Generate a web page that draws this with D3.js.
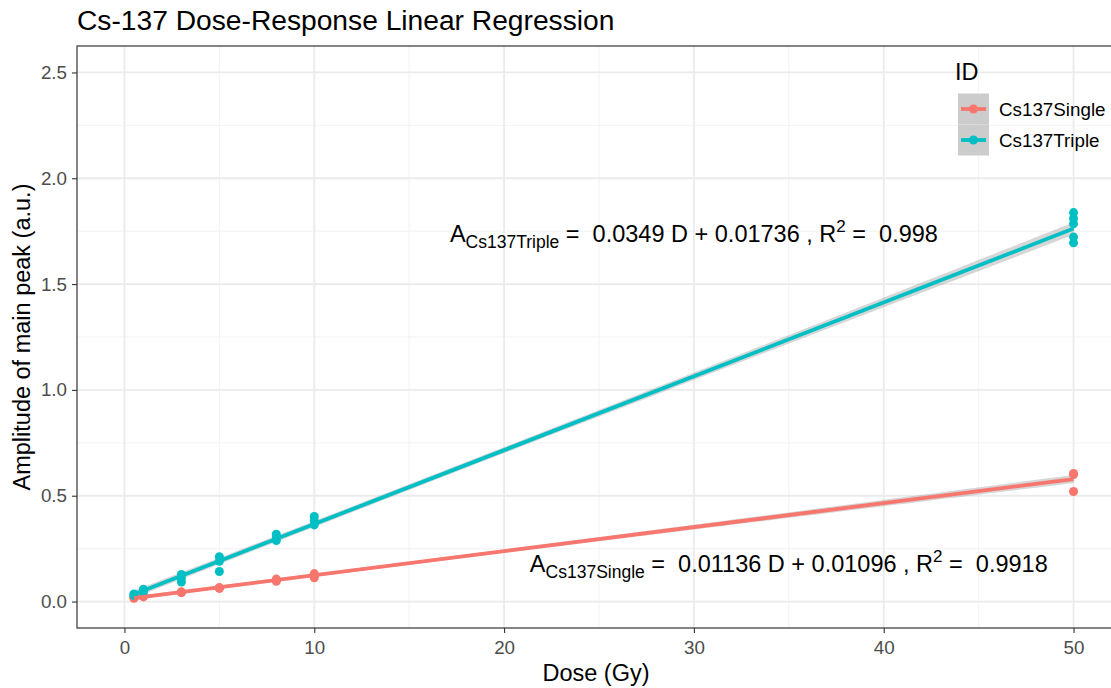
<!DOCTYPE html>
<html>
<head>
<meta charset="utf-8">
<script src="https://cdn.jsdelivr.net/npm/d3@7"></script>
<style>
  html, body { margin: 0; padding: 0; background: #fff; }
  svg { display: block; font-family: "Liberation Sans", Arial, Helvetica, sans-serif; }
  text { white-space: pre; }
</style>
</head>
<body>
<svg id="chart" width="1111" height="688"></svg>
<script>
// Dose (Gy) for each measurement
const singleDose = [0.5, 0.5, 0.5, 1, 1, 1, 3, 3, 3, 5, 5, 5, 8, 8, 8, 10, 10, 10, 50, 50, 50];
const singleAmp  = [0.015, 0.018, 0.022, 0.022, 0.025, 0.028, 0.042, 0.044, 0.046, 0.062, 0.064, 0.066, 0.096, 0.101, 0.106, 0.112, 0.122, 0.132, 0.605, 0.60, 0.52];

const tripleDose = [0.5, 0.5, 0.5, 1, 1, 1, 3, 3, 3, 5, 5, 5, 8, 8, 8, 10, 10, 10, 50, 50, 50, 50, 50];
const tripleAmp  = [0.028, 0.032, 0.036, 0.045, 0.052, 0.058, 0.092, 0.11, 0.128, 0.142, 0.19, 0.212, 0.288, 0.305, 0.318, 0.362, 0.382, 0.402, 1.838, 1.81, 1.785, 1.722, 1.695];

// Fitted coefficients (slope, intercept, R²) as printed in the annotations
const seriesNames = ["Cs137Single", "Cs137Triple"];
const slopes      = [0.01136, 0.0349];
const intercepts  = [0.01096, 0.01736];
const rSquared    = ["0.9918", "0.998"];
const slopeText   = ["0.01136", "0.0349"];
const interText   = ["0.01096", "0.01736"];
const labelPos    = [[35, 0.19], [30, 1.75]];

const xTicks = [0, 10, 20, 30, 40, 50];
const yTicks = [0.0, 0.5, 1.0, 1.5, 2.0, 2.5];
const xMinor = [5, 15, 25, 35, 45];
const yMinor = [0.25, 0.75, 1.25, 1.75, 2.25];

const colors = ["#F8766D", "#00BFC4"];

const svg = d3.select("#chart");
const panel = { left: 77, top: 46, right: 1121, bottom: 628 };

const x = d3.scaleLinear().domain([-2.5, 52.5]).range([panel.left, panel.right]);
const y = d3.scaleLinear().domain([-0.125, 2.625]).range([panel.bottom, panel.top]);

const clipId = "panel-clip";
svg.append("defs").append("clipPath").attr("id", clipId)
  .append("rect").attr("x", panel.left).attr("y", panel.top)
  .attr("width", panel.right - panel.left).attr("height", panel.bottom - panel.top);

const plot = svg.append("g").attr("clip-path", `url(#${clipId})`);

// grid: minor then major
const grid = plot.append("g");
grid.selectAll(".vminor").data(xMinor).join("line")
  .attr("x1", d => x(d)).attr("x2", d => x(d)).attr("y1", panel.top).attr("y2", panel.bottom)
  .attr("stroke", "#F0F0F0").attr("stroke-width", 0.9);
grid.selectAll(".hminor").data(yMinor).join("line")
  .attr("y1", d => y(d)).attr("y2", d => y(d)).attr("x1", panel.left).attr("x2", panel.right)
  .attr("stroke", "#F0F0F0").attr("stroke-width", 0.9);
grid.selectAll(".vmajor").data(xTicks).join("line")
  .attr("x1", d => x(d)).attr("x2", d => x(d)).attr("y1", panel.top).attr("y2", panel.bottom)
  .attr("stroke", "#EBEBEB").attr("stroke-width", 1.8);
grid.selectAll(".hmajor").data(yTicks).join("line")
  .attr("y1", d => y(d)).attr("y2", d => y(d)).attr("x1", panel.left).attr("x2", panel.right)
  .attr("stroke", "#EBEBEB").attr("stroke-width", 1.8);

// series data
const series = [
  { name: seriesNames[0], dose: singleDose, amp: singleAmp, b: slopes[0], a: intercepts[0], color: colors[0] },
  { name: seriesNames[1], dose: tripleDose, amp: tripleAmp, b: slopes[1], a: intercepts[1], color: colors[1] }
];

// 95% confidence band of the fitted line, from the residuals of each series
function band(s) {
  const n = s.dose.length;
  const mx = d3.mean(s.dose);
  const sxx = d3.sum(s.dose, d => (d - mx) * (d - mx));
  const rss = d3.sum(s.dose, (d, i) => Math.pow(s.amp[i] - (s.a + s.b * d), 2));
  const sigma = Math.sqrt(rss / (n - 2));
  const t = 2.09;
  const [lo, hi] = d3.extent(s.dose);
  const pts = d3.range(0, 81).map(k => lo + (hi - lo) * k / 80);
  return pts.map(d => {
    const fit = s.a + s.b * d;
    const se = sigma * Math.sqrt(1 / n + (d - mx) * (d - mx) / sxx);
    return { d, lo: fit - t * se, hi: fit + t * se };
  });
}

series.forEach(s => {
  const area = d3.area().x(p => x(p.d)).y0(p => y(p.lo)).y1(p => y(p.hi));
  plot.append("path").datum(band(s)).attr("d", area)
    .attr("fill", "#999999").attr("fill-opacity", 0.4);
});

// points
series.forEach(s => {
  plot.append("g").selectAll("circle").data(s.dose.map((d, i) => [d, s.amp[i]])).join("circle")
    .attr("cx", p => x(p[0])).attr("cy", p => y(p[1])).attr("r", 4.5)
    .attr("fill", s.color);
});

// fitted lines
series.forEach(s => {
  const [lo, hi] = d3.extent(s.dose);
  plot.append("line")
    .attr("x1", x(lo)).attr("y1", y(s.a + s.b * lo))
    .attr("x2", x(hi)).attr("y2", y(s.a + s.b * hi))
    .attr("stroke", s.color).attr("stroke-width", 3.8).attr("stroke-linecap", "butt");
});

// equation annotations
series.forEach((s, i) => {
  const t = plot.append("text")
    .attr("x", x(labelPos[i][0])).attr("y", y(labelPos[i][1]) + 10.5)
    .attr("text-anchor", "middle").attr("font-size", 23.5).attr("fill", "#000");
  t.append("tspan").text("A");
  t.append("tspan").attr("font-size", 17.5).attr("dy", 6).text(s.name);
  t.append("tspan").attr("dy", -6).text(" =  " + slopeText[i] + " D + " + interText[i] + " , R");
  t.append("tspan").attr("font-size", 17).attr("dy", -10).text("2");
  t.append("tspan").attr("dy", 10).text(" =  " + rSquared[i]);
});

// panel border
svg.append("rect").attr("x", panel.left).attr("y", panel.top)
  .attr("width", panel.right - panel.left).attr("height", panel.bottom - panel.top)
  .attr("fill", "none").attr("stroke", "#333333").attr("stroke-width", 1.2);

// axes
const xAxis = svg.append("g").attr("transform", `translate(0,${panel.bottom})`)
  .call(d3.axisBottom(x).tickValues(xTicks).tickFormat(d3.format("d")).tickSize(5).tickPadding(5));
const yAxis = svg.append("g").attr("transform", `translate(${panel.left},0)`)
  .call(d3.axisLeft(y).tickValues(yTicks).tickFormat(d3.format(".1f")).tickSize(5).tickPadding(5));
[xAxis, yAxis].forEach(g => {
  g.select(".domain").remove();
  g.selectAll(".tick line").attr("stroke", "#333333").attr("stroke-width", 1.1);
  g.selectAll(".tick text").attr("fill", "#4D4D4D").attr("font-size", 18.8)
    .attr("font-family", "'Liberation Sans', Arial, sans-serif");
});
xAxis.selectAll(".tick text").attr("dy", "0.85em");

// axis titles
svg.append("text").attr("x", (panel.left + 1111 + 4) / 2).attr("y", 681)
  .attr("text-anchor", "middle").attr("font-size", 23.5).attr("fill", "#000").text("Dose (Gy)");
svg.append("text").attr("transform", `translate(29.5,${(panel.top + panel.bottom) / 2}) rotate(-90)`)
  .attr("text-anchor", "middle").attr("font-size", 23.5).attr("fill", "#000").text("Amplitude of main peak (a.u.)");

// title
svg.append("text").attr("x", 77).attr("y", 30).attr("font-size", 28.2).attr("fill", "#000")
  .text("Cs-137 Dose-Response Linear Regression");

// legend
const lg = svg.append("g");
lg.append("text").attr("x", 955).attr("y", 80).attr("font-size", 23.5).attr("fill", "#000").text("ID");
series.forEach((s, i) => {
  const cy = 109 + i * 31;
  lg.append("rect").attr("x", 958).attr("y", cy - 15.5).attr("width", 31).attr("height", 31)
    .attr("fill", "#CCCCCC");
  lg.append("line").attr("x1", 961).attr("x2", 986).attr("y1", cy).attr("y2", cy)
    .attr("stroke", s.color).attr("stroke-width", 3.8);
  lg.append("circle").attr("cx", 973.5).attr("cy", cy).attr("r", 4.5).attr("fill", s.color);
  lg.append("text").attr("x", 999).attr("y", cy + 6.5).attr("font-size", 18.8).attr("fill", "#000").text(s.name);
});
</script>
</body>
</html>
